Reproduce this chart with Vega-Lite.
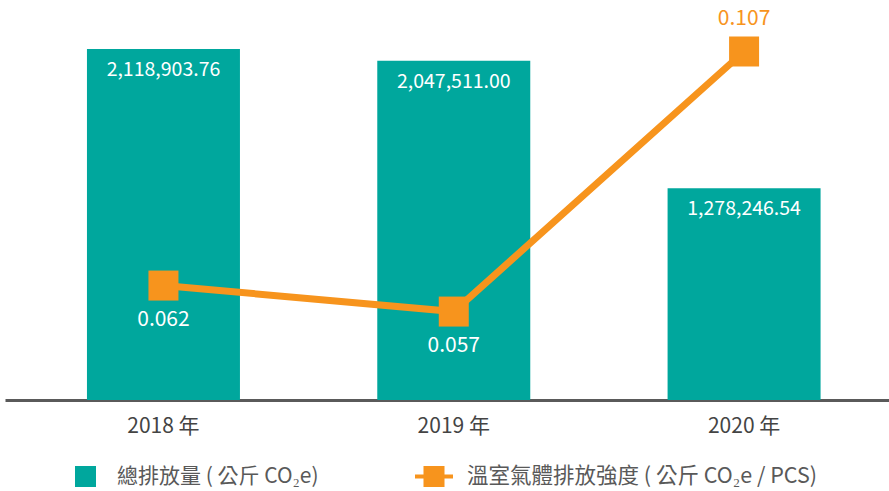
{
  "$schema": "https://vega.github.io/schema/vega-lite/v6.json",
  "width": 884,
  "height": 400,
  "autosize": "none",
  "padding": {"left": 5, "top": 0, "right": 0, "bottom": 91},
  "background": "white",
  "config": {
    "view": {"stroke": null},
    "font": "Noto Sans CJK TC",
    "text": {"font": "Noto Sans CJK TC"}
  },
  "data": {
    "values": [
      {"year": "2018 年", "total": 2118903.76, "intensity": 0.062, "s1": "總排放量 ( 公斤 CO₂e)", "s2": "溫室氣體排放強度 ( 公斤 CO₂e / PCS)"},
      {"year": "2019 年", "total": 2047511.00, "intensity": 0.057, "s1": "總排放量 ( 公斤 CO₂e)", "s2": "溫室氣體排放強度 ( 公斤 CO₂e / PCS)"},
      {"year": "2020 年", "total": 1278246.54, "intensity": 0.107, "s1": "總排放量 ( 公斤 CO₂e)", "s2": "溫室氣體排放強度 ( 公斤 CO₂e / PCS)"}
    ]
  },
  "encoding": {
    "x": {
      "field": "year",
      "type": "nominal",
      "sort": null,
      "scale": {"paddingInner": 0.473, "paddingOuter": 0.259, "align": 0.545},
      "axis": {
        "title": null,
        "labelAngle": 0,
        "ticks": false,
        "domainColor": "#5a5a5a",
        "domainWidth": 3,
        "labelColor": "#444444",
        "labelFontSize": 21,
        "labelPadding": 15,
        "labelFont": "Noto Sans CJK TC"
      }
    }
  },
  "layer": [
    {
      "layer": [
        {
          "mark": {"type": "bar", "color": "#00A79D"},
          "encoding": {
            "y": {"field": "total", "type": "quantitative", "scale": {"domain": [0, 2414700], "nice": false, "zero": true}, "axis": null},
            "fill": {
              "field": "s1",
              "type": "nominal",
              "scale": {"range": ["#00A79D"]},
              "legend": {
                "title": null,
                "orient": "none",
                "legendX": 70,
                "legendY": 466,
                "padding": 0,
                "symbolType": "square",
                "symbolSize": 441,
                "symbolStrokeWidth": 0,
                "labelFontSize": 21,
                "labelColor": "#595959",
                "labelFont": "Noto Sans CJK TC",
                "labelOffset": 21,
                "labelLimit": 0
              }
            }
          }
        },
        {
          "mark": {"type": "text", "color": "white", "fontSize": 19.5, "baseline": "middle", "dy": 21},
          "encoding": {
            "y": {"field": "total", "type": "quantitative", "scale": {"domain": [0, 2414700], "nice": false, "zero": true}, "axis": null},
            "text": {"field": "total", "type": "quantitative", "format": ",.2f"}
          }
        }
      ]
    },
    {
      "layer": [
        {
          "mark": {"type": "line", "color": "#F7941D", "strokeWidth": 7},
          "encoding": {
            "y": {"field": "intensity", "type": "quantitative", "scale": {"domain": [0.04, 0.1169], "nice": false, "zero": false}, "axis": null},
            "stroke": {
              "field": "s2",
              "type": "nominal",
              "scale": {"range": ["#F7941D"]},
              "legend": {
                "title": null,
                "orient": "none",
                "legendX": 410,
                "legendY": 457.5,
                "padding": 0,
                "symbolType": "M-1,-0.105H1V0.105H-1Z M-0.553,-0.553H0.553V0.553H-0.553Z",
                "symbolSize": 1444,
                "symbolFillColor": "#F7941D",
                "symbolStrokeWidth": 0,
                "labelFontSize": 21.5,
                "labelColor": "#595959",
                "labelFont": "Noto Sans CJK TC",
                "labelOffset": 14,
                "labelLimit": 0
              }
            }
          }
        },
        {
          "mark": {"type": "point", "shape": "square", "filled": true, "size": 900, "color": "#F7941D", "opacity": 1},
          "encoding": {
            "y": {"field": "intensity", "type": "quantitative", "scale": {"domain": [0.04, 0.1169], "nice": false, "zero": false}, "axis": null}
          }
        },
        {
          "transform": [{"filter": "datum.year != '2020 年'"}],
          "mark": {"type": "text", "color": "white", "fontSize": 21, "baseline": "middle", "dy": 34},
          "encoding": {
            "y": {"field": "intensity", "type": "quantitative", "scale": {"domain": [0.04, 0.1169], "nice": false, "zero": false}, "axis": null},
            "text": {"field": "intensity", "type": "quantitative", "format": ".3f"}
          }
        },
        {
          "transform": [{"filter": "datum.year == '2020 年'"}],
          "mark": {"type": "text", "color": "#F7941D", "fontSize": 21, "baseline": "middle", "dy": -32},
          "encoding": {
            "y": {"field": "intensity", "type": "quantitative", "scale": {"domain": [0.04, 0.1169], "nice": false, "zero": false}, "axis": null},
            "text": {"field": "intensity", "type": "quantitative", "format": ".3f"}
          }
        }
      ]
    }
  ],
  "resolve": {"scale": {"y": "independent", "fill": "independent", "stroke": "independent"}}
}
